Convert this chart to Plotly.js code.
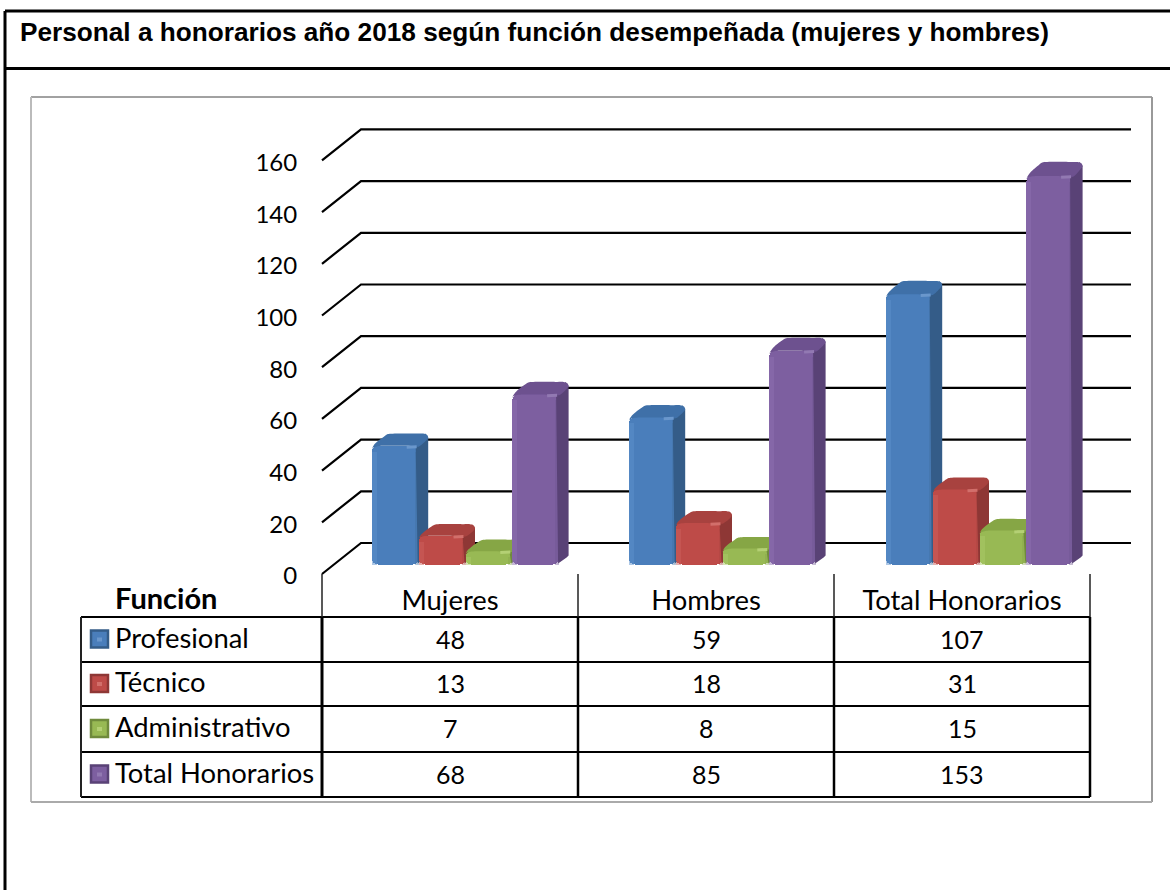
<!DOCTYPE html>
<html><head><meta charset="utf-8">
<script src="https://cdn.plot.ly/plotly-3.0.1.min.js"></script>
<style>html,body{margin:0;padding:0;background:#fff}</style></head>
<body><div id="chart" style="width:1170px;height:890px"></div>
<script>
const categories = ['Mujeres','Hombres','Total Honorarios'];
const seriesNames = ['Profesional','Técnico','Administrativo','Total Honorarios'];
const profesional = [48,59,107];
const tecnico = [13,18,31];
const administrativo = [7,8,15];
const totalHonorarios = [68,85,153];
const yTicks = [0,20,40,60,80,100,120,140,160];
const rowHeader = 'Función';
const titleText = 'Personal a honorarios año 2018 según función desempeñada (mujeres y hombres)';
const frontFaces = ['#4A7EBB','#BE4B48','#98B954','#7D5FA0'];
const lightEdges = ['#5B8FCB','#CB5F5B','#A9C968','#8D70B0'];
const darkEdges = ['#41709F','#A94340','#86A54A','#6F5490'];
const sideFaces = ['#345C88','#8E3735','#6F8A3C','#594276'];
const topFaces = ['#3F70A8','#A8423F','#86A645','#6D518F'];
const glints = ['#6A97CC','#D26F6B','#B4D074','#9279B2'];

const W=1170,H=890;
const px=x=>x/W, py=y=>1-y/H;
const FONT='Lato, sans-serif';
const allSeries=[profesional,tecnico,administrativo,totalHonorarios];

// axis scales: whole page is the plot area
const unitX=256, scaleY=2.585, zeroY=574, zeroX=450;
const barUnitX=257, barScale=2.57, barZeroY=569, barZeroX=465.5;
const mainX=[-zeroX/unitX,(W-zeroX)/unitX];
const mainY=[(zeroY-H)/scaleY,zeroY/scaleY];
const barX=[-barZeroX/barUnitX,(W-barZeroX)/barUnitX];
const barY=[(barZeroY-H)/barScale,barZeroY/barScale];
const depthX=39/unitX, depthY=31/scaleY;       // wall depth
const wallLeft=-128/unitX, wallRight=(1131-zeroX)/unitX;
const barW=46.8/barUnitX, barDX=9.5/barUnitX;
const floor=4.5/barScale;                      // bars stand slightly behind the front plane

const traces=[];
const gx=[],gy=[];
yTicks.forEach(t=>{
  gx.push(wallLeft,wallLeft+depthX,wallRight,null);
  gy.push(t,t+depthY,t+depthY,null);
});
traces.push({type:'scatter',mode:'lines',x:gx,y:gy,xaxis:'x',yaxis:'y',hoverinfo:'skip',
  line:{color:'#000',width:2.2},showlegend:false});

allSeries.forEach((vals,k)=>{
  const ya='y'+(k+2);
  const off=(k-1.5)*barW;
  const xs=categories.map((c,i)=>i+off);
  const ux=1/barUnitX, uy=1/barScale;
  const sideX=[],sideY=[],topX=[],topY=[],glX=[],glY=[];
  vals.forEach((v,i)=>{
    const x1=xs[i]+barW/2, x0=xs[i]-barW/2;
    const d=11.2+0.017*v;                      // visible depth of the bar top
    sideX.push(x1-3*ux,x1+barDX-3*ux,x1+barDX,x1+barDX,x1+barDX-2*ux,x1-1*ux,x1-3*ux,null);
    sideY.push(v,v+d*uy,v+(d-4)*uy,floor+9*uy,floor+7*uy,floor+1*uy,v,null);
    topX.push(x0+0*ux,x0+1*ux,x0+3*ux,x0+7*ux,x0+12*ux,x0+16*ux,x1-2*ux,x1+barDX-5*ux,x1+barDX-1*ux,x1+barDX,x1+barDX-2*ux,x1,x1-6*ux,x0+6*ux,x0+1*ux,null);
    topY.push(v-4*uy,v-1*uy,v+(d*0.15)*uy,v+(d*0.45)*uy,v+(d*0.75)*uy,v+(d*0.96)*uy,v+d*uy,v+d*uy,v+(d-1.5)*uy,v+(d-4)*uy,v+(d-7)*uy,v-1*uy,v-0.5*uy,v-0.5*uy,v-2*uy,null);
    glX.push(x1-12*ux,x1-2*ux,null);
    glY.push(v-1.5*uy,v-1*uy,null);
  });
  traces.push({type:'scatter',mode:'lines',x:sideX,y:sideY,xaxis:'x2',yaxis:ya,fill:'toself',
    fillcolor:sideFaces[k],line:{width:0,color:sideFaces[k]},hoverinfo:'skip',showlegend:false});
  traces.push({type:'scatter',mode:'lines',x:topX,y:topY,xaxis:'x2',yaxis:ya,fill:'toself',
    fillcolor:topFaces[k],line:{width:0,color:topFaces[k],shape:'spline',smoothing:0.7},hoverinfo:'skip',showlegend:false});
  traces.push({type:'bar',name:seriesNames[k],x:xs,y:vals.map(v=>v-floor),base:floor,width:barW,xaxis:'x2',yaxis:ya,
    marker:{color:frontFaces[k],line:{width:0},cornerradius:6},showlegend:false});
  traces.push({type:'bar',x:xs.map(x=>x-barW/2+2.5*ux),y:vals.map(v=>v-floor-6*uy),base:floor,width:5*ux,xaxis:'x2',yaxis:ya,
    marker:{color:lightEdges[k],line:{width:0}},opacity:0.5,hoverinfo:'skip',showlegend:false});
  traces.push({type:'bar',x:xs.map(x=>x+barW/2-2*ux),y:vals.map(v=>v-floor-6*uy),base:floor,width:4*ux,xaxis:'x2',yaxis:ya,
    marker:{color:darkEdges[k],line:{width:0}},opacity:0.4,hoverinfo:'skip',showlegend:false});
  traces.push({type:'scatter',mode:'lines',x:glX,y:glY,xaxis:'x2',yaxis:ya,hoverinfo:'skip',showlegend:false,
    line:{color:glints[k],width:3}});
});

const shapes=[];
const ln=(x0,y0,x1,y1,c='#000',w=2)=>shapes.push({type:'line',xref:'paper',yref:'paper',
  x0:px(x0),y0:py(y0),x1:px(x1),y1:py(y1),line:{color:c,width:w}});
ln(5,11,1170,11,'#000',3); ln(5,11,5,890,'#000',3); ln(5,68.5,1170,68.5,'#000',3);
ln(31,97,1152,97,'#444',1); ln(31,97,31,802,'#bbb',2); ln(1152,97,1152,802,'#999',2); ln(31,802,1152,802,'#aaa',2);
const rowLines=[617,662,706,752,797];
rowLines.forEach(y=>ln(81,y,1090,y,'#000',2));
ln(81,617,81,797,'#222',2);
ln(322,574,322,617,'#222',1.5); ln(322,617,322,797,'#000',3);
[578,834,1090].forEach(x=>{ln(x,574,x,617,'#222',1.5); ln(x,617,x,797,'#000',2.5);});

const annotations=[];
const txt=(x,y,t,size,anchor,bold)=>annotations.push({xref:'paper',yref:'paper',x:px(x),y:py(y),text:bold?'<b>'+t+'</b>':t,
  showarrow:false,xanchor:anchor,yanchor:'middle',font:{family:FONT,size:size,color:'#000'}});
annotations.push({xref:'paper',yref:'paper',x:px(18),y:py(32),text:'<b>'+titleText+'</b>',showarrow:false,
  xanchor:'left',yanchor:'middle',font:{family:'"Liberation Sans",Arial,sans-serif',size:26.2,color:'#000'}});
txt(113,597,rowHeader,29,'left',true);
seriesNames.forEach((n,k)=>{
  const cy=(rowLines[k]+rowLines[k+1])/2;
  txt(113,cy-2.5,n,27.4,'left',false);
  shapes.push({type:'rect',xref:'paper',yref:'paper',x0:px(91),x1:px(108),y0:py(cy-9),y1:py(cy+8),
    fillcolor:frontFaces[k],line:{color:sideFaces[k],width:2.5}});
  shapes.push({type:'rect',xref:'paper',yref:'paper',x0:px(97),x1:px(102),y0:py(cy-2),y1:py(cy+2),
    fillcolor:glints[k],line:{width:0}});
  categories.forEach((c,i)=>{
    annotations.push({xref:'x',yref:'paper',x:i,y:py(cy-1),text:String(allSeries[k][i]),showarrow:false,
      xanchor:'center',yanchor:'middle',font:{family:FONT,size:25,color:'#000'}});
  });
});

const hidden=(extra)=>Object.assign({visible:false,fixedrange:true,showgrid:false,zeroline:false},extra);
const layout={
  width:W,height:H,margin:{l:0,r:0,t:0,b:0,pad:0},paper_bgcolor:'#fff',plot_bgcolor:'rgba(0,0,0,0)',
  showlegend:false,bargap:0,font:{family:FONT,color:'#000'},
  xaxis:{domain:[0,1],range:mainX,anchor:'free',position:py(zeroY),tickmode:'array',tickvals:[0,1,2],ticktext:categories,
    showgrid:false,zeroline:false,showline:false,ticks:'outside',ticklen:2,tickcolor:'rgba(0,0,0,0)',
    tickfont:{family:FONT,size:27.4,color:'#000'},fixedrange:true},
  yaxis:{domain:[0,1],range:mainY,anchor:'free',position:px(322),tickmode:'array',tickvals:yTicks,
    showgrid:false,zeroline:false,showline:false,ticks:'outside',ticklen:20,tickcolor:'rgba(0,0,0,0)',ticklabelshift:2,
    tickfont:{family:FONT,size:24,color:'#000'},fixedrange:true},
  xaxis2:hidden({overlaying:'x',range:barX,anchor:'y2'}),
  yaxis2:hidden({overlaying:'y',range:barY,anchor:'x2'}),
  yaxis3:hidden({overlaying:'y',range:barY,anchor:'x2'}),
  yaxis4:hidden({overlaying:'y',range:barY,anchor:'x2'}),
  yaxis5:hidden({overlaying:'y',range:barY,anchor:'x2'}),
  shapes,annotations
};
Plotly.newPlot('chart',traces,layout,{displayModeBar:false,staticPlot:true});
</script></body></html>
